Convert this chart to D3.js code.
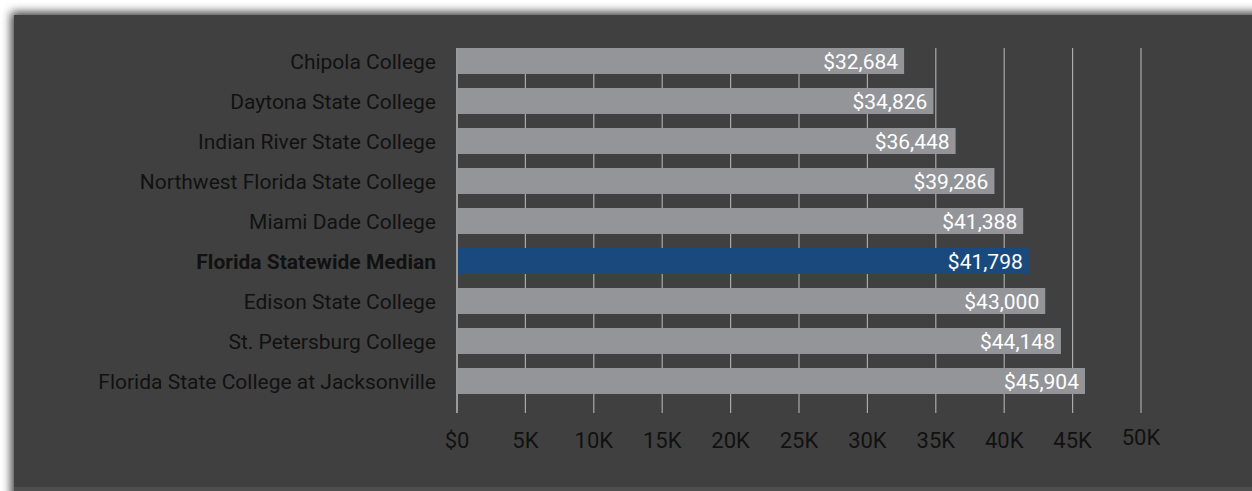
<html>
    <head>
        <meta name="viewport" content="width=device-width, initial-scale=1" />
        <script src="https://d3js.org/d3.v7.min.js"></script>
        <title>Median Earnings</title>
        <style>
            body { margin: 0; background-color: #ffffff; }
            svg text { font-family: Roboto, "Noto Sans", sans-serif; }
        </style>
    </head>
    <body>
        <div id="chart"></div>
    </body>
    <script>
        const colleges = [
            "Chipola College",
            "Daytona State College",
            "Indian River State College",
            "Northwest Florida State College",
            "Miami Dade College",
            "Florida Statewide Median",
            "Edison State College",
            "St. Petersburg College",
            "Florida State College at Jacksonville"
        ];
        const earnings = [32684, 34826, 36448, 39286, 41388, 41798, 43000, 44148, 45904];
        const highlight = "Florida Statewide Median";
        const tickValues = [0, 5000, 10000, 15000, 20000, 25000, 30000, 35000, 40000, 45000, 50000];
        const tickLabels = ["$0", "5K", "10K", "15K", "20K", "25K", "30K", "35K", "40K", "45K", "50K"];

        const W = 1252, H = 491;
        const plotTop = 48, plotLeft = 457;

        const svg = d3.select("#chart").append("svg")
            .attr("width", W).attr("height", H);

        const defs = svg.append("defs");
        const f = defs.append("filter").attr("id", "shadow")
            .attr("x", "-5%").attr("y", "-10%").attr("width", "110%").attr("height", "120%");
        f.append("feDropShadow").attr("dx", -3).attr("dy", -3)
            .attr("stdDeviation", 5).attr("flood-color", "#000").attr("flood-opacity", 0.75);

        svg.append("rect")
            .attr("x", 14).attr("y", 15)
            .attr("width", W + 20).attr("height", H + 20)
            .attr("fill", "#414141")
            .attr("filter", "url(#shadow)");
        svg.append("rect")
            .attr("x", 14).attr("y", 487)
            .attr("width", W).attr("height", 4)
            .attr("fill", "#4e4e4e");

        const x = d3.scaleLinear().domain([0, 50000]).range([plotLeft, 1141]);
        const y = d3.scaleBand().domain(colleges)
            .range([plotTop, plotTop + 40 * colleges.length - 14])
            .paddingInner(0.35).paddingOuter(0);
        const gridBottom = 413;

        // gridlines
        svg.append("g").selectAll("line")
            .data(tickValues.slice(1))
            .join("line")
            .attr("x1", d => x(d)).attr("x2", d => x(d))
            .attr("y1", plotTop).attr("y2", gridBottom)
            .attr("stroke", "#a9a9a9").attr("stroke-width", 1.2);

        const data = colleges.map((c, i) => ({ name: c, value: earnings[i] }));

        svg.append("g").selectAll("rect")
            .data(data)
            .join("rect")
            .attr("x", x(0))
            .attr("y", d => y(d.name))
            .attr("width", d => x(d.value) - x(0))
            .attr("height", y.bandwidth())
            .attr("fill", d => d.name === highlight ? "#1a4a7d" : "#949599");

        // axis line at zero
        svg.append("line")
            .attr("x1", x(0)).attr("x2", x(0))
            .attr("y1", plotTop).attr("y2", gridBottom)
            .attr("stroke", "#9a9a9a").attr("stroke-width", 2);

        // value labels
        svg.append("g").selectAll("text")
            .data(data)
            .join("text")
            .attr("x", d => x(d.value) - 6)
            .attr("y", d => y(d.name) + y.bandwidth() / 2)
            .attr("dy", "0.36em")
            .attr("text-anchor", "end")
            .attr("fill", "#ffffff")
            .style("font-size", "21px")
            .text(d => "$" + d3.format(",")(d.value));

        // category labels
        svg.append("g").selectAll("text")
            .data(colleges)
            .join("text")
            .attr("x", 436)
            .attr("y", d => y(d) + y.bandwidth() / 2)
            .attr("dy", "0.36em")
            .attr("text-anchor", "end")
            .attr("fill", "#111111")
            .style("font-size", "21px")
            .style("font-weight", d => d === highlight ? "bold" : "normal")
            .text(d => d);

        // tick labels
        svg.append("g").selectAll("text")
            .data(tickValues)
            .join("text")
            .attr("x", d => x(d))
            .attr("y", (d, i) => i === tickValues.length - 1 ? 437 : 440)
            .attr("dy", "0.36em")
            .attr("text-anchor", "middle")
            .attr("fill", "#111111")
            .style("font-size", "22px")
            .text((d, i) => tickLabels[i]);
    </script>
</html>
